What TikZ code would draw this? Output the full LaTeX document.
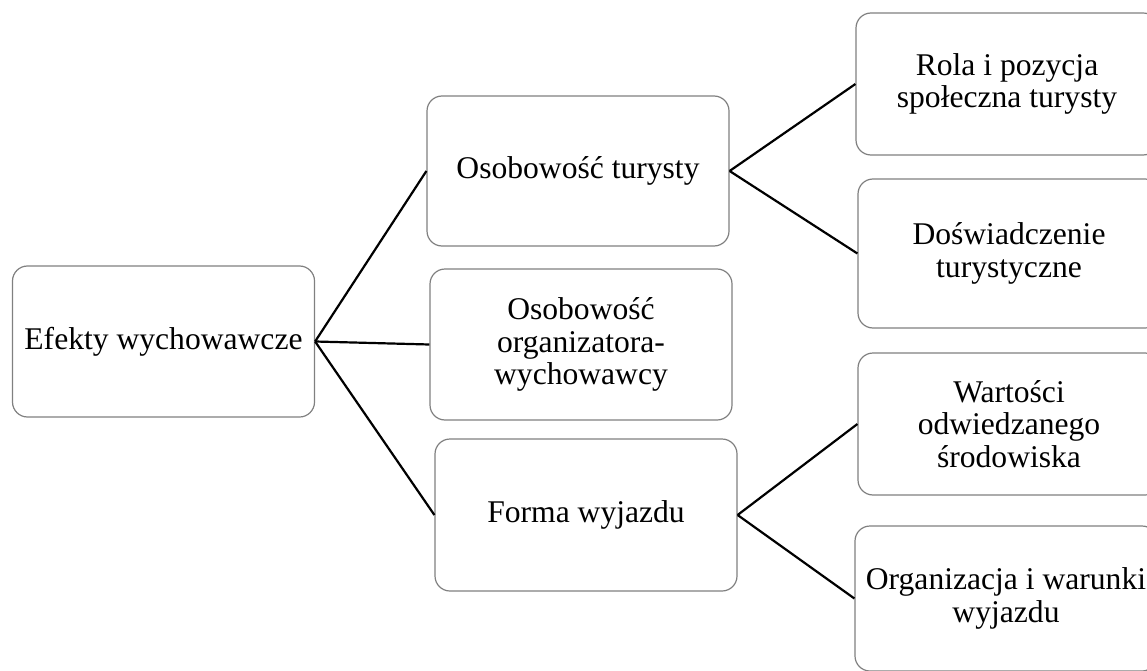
\documentclass[tikz,border=0pt]{standalone}
\usepackage{fontspec}
\setmainfont{Liberation Serif}
\definecolor{boxgray}{RGB}{128,128,128}
\begin{document}
\begin{tikzpicture}[x=1pt,y=-1pt,
  box/.style={draw=boxgray,line width=1.2pt,rounded corners=15pt,fill=white,
    minimum width=302pt,inner sep=0pt,align=center,
    font=\fontsize{31.6}{32.5}\selectfont,text=black},
  conn/.style={line width=2.2pt,black}]
\useasboundingbox (0,0) rectangle (1147,671);
\clip (0,0) rectangle (1147,671);
\node[box,minimum height=151pt] (ef) at (163.5,341.5) {Efekty wychowawcze};
\node[box,minimum height=150pt] (tur) at (578,171) {Osobowość turysty};
\node[box,minimum height=151pt] (org) at (581,344.5) {Osobowość\\organizatora-\\wychowawcy};
\node[box,minimum height=152pt] (for) at (586,515) {Forma wyjazdu};
\node[box,minimum height=142pt] (rol) at (1007,84) {Rola i pozycja\\społeczna turysty};
\node[box,minimum height=149pt] (dos) at (1009,253.5) {Doświadczenie\\turystyczne};
\node[box,minimum height=142pt] (war) at (1009,424) {Wartości\\odwiedzanego\\środowiska};
\node[box,minimum height=145pt] (orw) at (1006,598.5) {Organizacja i warunki\\wyjazdu};
\draw[conn] (ef.east) -- (tur.west);
\draw[conn] (ef.east) -- (org.west);
\draw[conn] (ef.east) -- (for.west);
\draw[conn] (tur.east) -- (rol.west);
\draw[conn] (tur.east) -- (dos.west);
\draw[conn] (for.east) -- (war.west);
\draw[conn] (for.east) -- (orw.west);
\end{tikzpicture}
\end{document}
